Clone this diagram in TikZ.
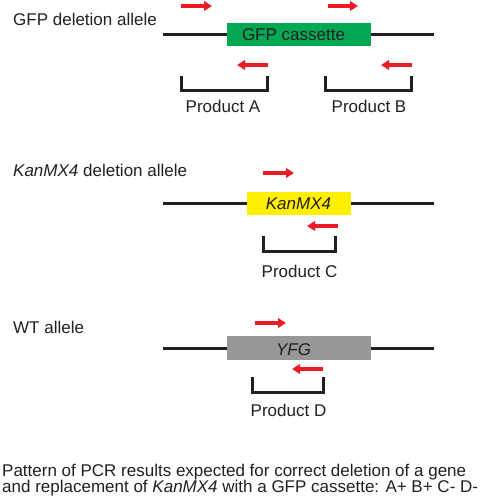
\documentclass[tikz,border=0pt]{standalone}
\usepackage{fontspec}
\setmainfont{Liberation Sans}
\usetikzlibrary{arrows.meta}
\definecolor{pred}{RGB}{237,28,36}
\definecolor{gfpgreen}{RGB}{0,168,84}
\definecolor{kanyellow}{RGB}{255,240,0}
\definecolor{yfggray}{RGB}{152,152,152}
\definecolor{dnablack}{RGB}{35,31,32}
\begin{document}
\begin{tikzpicture}[x=1pt,y=-1pt,
  lbl/.style={font=\fontsize{17}{17}\selectfont, inner sep=0pt, text=dnablack},
  dnaline/.style={draw=dnablack, line width=3pt},
  genebox/.style={draw=none, inner sep=0pt, minimum width=#1},
  primer/.style={draw=pred, line width=4pt, -{Triangle[length=8pt,width=9.5pt]}},
  bracket/.style={draw=dnablack, line width=3pt, line join=miter}
]
\useasboundingbox (0,0) rectangle (479,500);

% ---- GFP deletion allele
\node[lbl, anchor=base west] (t1) at (13,26) {GFP deletion allele};
\node[genebox=144pt, fill=gfpgreen, minimum height=23pt] (gfpbox) at (299,34.5) {};
\coordinate (g1l) at (163,34.5);
\coordinate (g1r) at (434,34.5);
\draw[dnaline] (g1l) -- (gfpbox.west);
\draw[dnaline] (gfpbox.east) -- (g1r);
\node[lbl, anchor=base] (gfplbl) at (293.5,41) {GFP cassette};
\coordinate (pa1) at (181,6); \coordinate (pa2) at (212,6);
\coordinate (pb1) at (328,6); \coordinate (pb2) at (358,6);
\draw[primer] (pa1) -- (pa2);
\draw[primer] (pb1) -- (pb2);
\coordinate (ra1) at (268,65); \coordinate (ra2) at (237,65);
\coordinate (rb1) at (412,65); \coordinate (rb2) at (381,65);
\draw[primer] (ra1) -- (ra2);
\draw[primer] (rb1) -- (rb2);
\draw[bracket] (181.5,76) -- (181.5,90.5) -- (267.5,90.5) -- (267.5,76);
\draw[bracket] (325.5,76) -- (325.5,90.5) -- (411.5,90.5) -- (411.5,76);
\node[lbl, anchor=base] (prA) at (223,113) {Product A};
\node[lbl, anchor=base] (prB) at (369,113) {Product B};

% ---- KanMX4 deletion allele
\node[lbl, anchor=base west] (t2) at (13,176) {\textit{KanMX4} deletion allele};
\node[genebox=104pt, fill=kanyellow, minimum height=23pt] (kanbox) at (299,203.5) {};
\coordinate (g2l) at (163,203.5);
\coordinate (g2r) at (434,203.5);
\draw[dnaline] (g2l) -- (kanbox.west);
\draw[dnaline] (kanbox.east) -- (g2r);
\node[lbl, anchor=base] (kanlbl) at (298.5,209) {\textit{KanMX4}};
\coordinate (pc1) at (263,173); \coordinate (pc2) at (294,173);
\draw[primer] (pc1) -- (pc2);
\coordinate (rc1) at (338,226); \coordinate (rc2) at (307,226);
\draw[primer] (rc1) -- (rc2);
\draw[bracket] (263.5,236) -- (263.5,251.5) -- (335.5,251.5) -- (335.5,236);
\node[lbl, anchor=base] (prC) at (299.5,277) {Product C};

% ---- WT allele
\node[lbl, anchor=base west] (t3) at (13,333) {WT allele};
\node[genebox=144pt, fill=yfggray, minimum height=24pt] (yfgbox) at (299,348) {};
\coordinate (g3l) at (163,348);
\coordinate (g3r) at (434,348);
\draw[dnaline] (g3l) -- (yfgbox.west);
\draw[dnaline] (yfgbox.east) -- (g3r);
\node[lbl, anchor=base] (yfglbl) at (293.5,355) {\textit{YFG}};
\coordinate (pd1) at (255,323); \coordinate (pd2) at (286,323);
\draw[primer] (pd1) -- (pd2);
\coordinate (rd1) at (323,369); \coordinate (rd2) at (292,369);
\draw[primer] (rd1) -- (rd2);
\draw[bracket] (252.5,377) -- (252.5,392.5) -- (323.5,392.5) -- (323.5,377);
\node[lbl, anchor=base] (prD) at (288.5,416) {Product D};

% ---- caption
\node[lbl, anchor=base west] (cap1) at (2,476) {Pattern of PCR results expected for correct deletion of a gene};
\node[lbl, anchor=base west] (cap2) at (2,492.5) {and replacement of \textit{KanMX4} with a GFP cassette: A+ B+ C- D-};
\end{tikzpicture}
\end{document}
